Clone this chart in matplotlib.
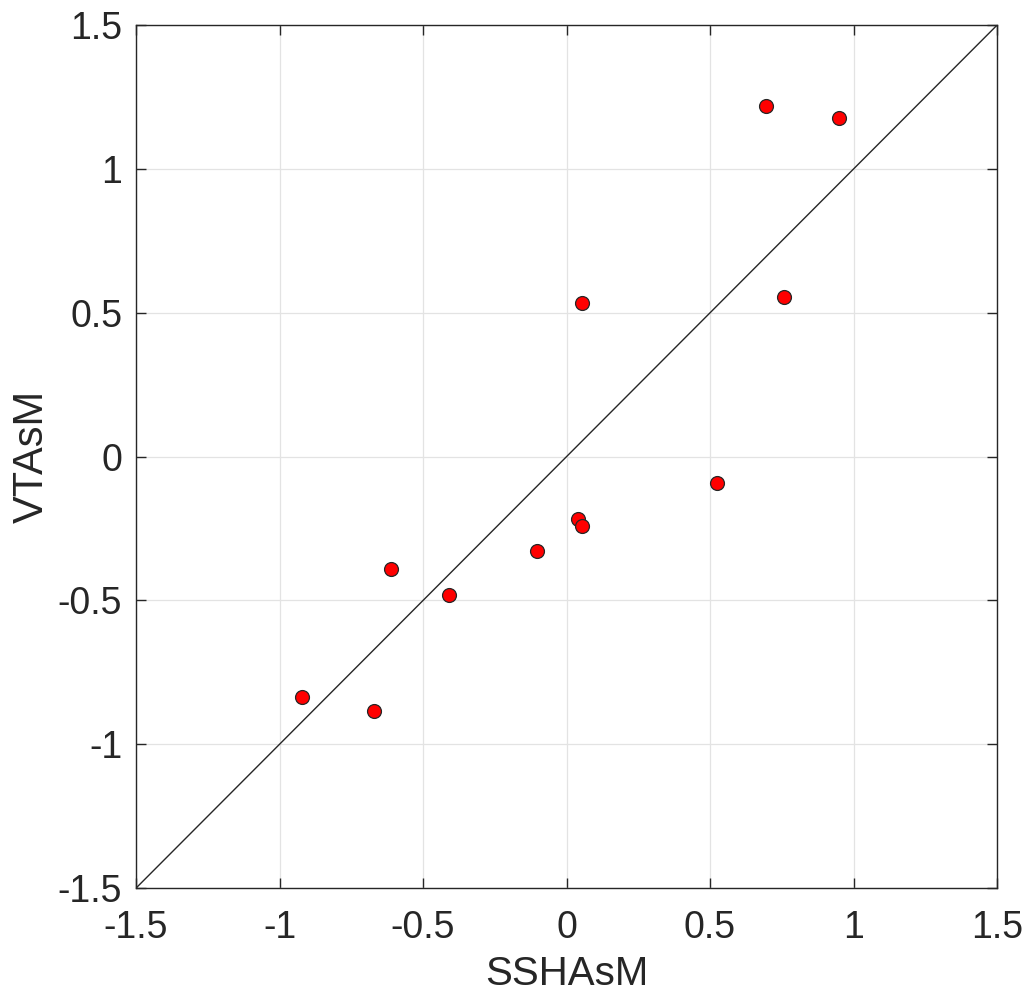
import matplotlib
matplotlib.use("Agg")
import matplotlib.pyplot as plt
import numpy as np

plt.rcParams['font.family'] = ['Liberation Sans', 'DejaVu Sans']

# SSHAsM vs VTAsM values
ssha = [0.695, 0.949, 0.054, 0.758, 0.524, 0.040, 0.054, -0.103, -0.612, -0.409, -0.922, -0.671]
vta = [1.218, 1.177, 0.534, 0.554, -0.092, -0.217, -0.242, -0.328, -0.391, -0.481, -0.836, -0.884]
ticks = [-1.5, -1, -0.5, 0, 0.5, 1, 1.5]
tick_labels = ['-1.5', '-1', '-0.5', '0', '0.5', '1', '1.5']

fig = plt.figure(figsize=(10.32, 9.99), dpi=100)
ax = fig.add_axes([0.1318, 0.111, 0.8343, 0.8638])

ax.plot([-1.5, 1.5], [-1.5, 1.5], color='#262626', lw=1.0, zorder=2)
ax.plot(ssha, vta, 'o', ms=10, mfc='red', mec='#262626', mew=0.9, zorder=3)

ax.set_xlim(-1.5, 1.5)
ax.set_ylim(-1.5, 1.5)
ax.set_xticks(ticks)
ax.set_xticklabels(tick_labels)
ax.set_yticks(ticks)
ax.set_yticklabels(tick_labels)
ax.grid(True, color='#e3e3e3', lw=0.9)
ax.set_axisbelow(True)
ax.tick_params(direction='in', top=True, right=True, length=7, width=1,
               labelsize=27, colors='#262626', pad=10)
ax.tick_params(axis='x', pad=16)
for s in ax.spines.values():
    s.set_color('#262626')
    s.set_linewidth(1.0)

ax.set_xlabel('SSHAsM', fontsize=29, color='#262626', labelpad=6)
ax.set_ylabel('VTAsM', fontsize=30, color='#262626', labelpad=4)

fig.savefig('out.png', dpi=100, facecolor='white')
